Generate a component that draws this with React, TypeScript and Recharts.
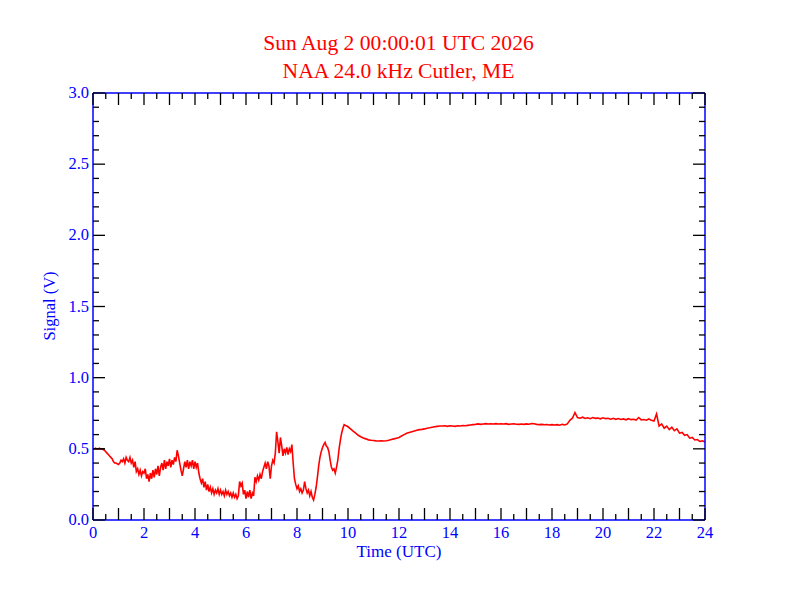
import React from 'react';
import { LineChart, Line, XAxis, YAxis, ReferenceLine } from 'recharts';

// Signal (V) samples; first two chunks every 0.05 h, last two every 0.1 h
const signal00to05 = [
  0.50, 0.50, 0.505, 0.50, 0.50, 0.505, 0.50, 0.50, 0.495, 0.49,
  0.48, 0.47, 0.46, 0.45, 0.44, 0.43, 0.41, 0.40, 0.40, 0.395,
  0.39, 0.40, 0.42, 0.41, 0.43, 0.40, 0.44, 0.42, 0.41, 0.44,
  0.40, 0.42, 0.37, 0.41, 0.34, 0.36, 0.32, 0.35, 0.31, 0.34,
  0.33, 0.36, 0.29, 0.32, 0.27, 0.33, 0.29, 0.35, 0.30, 0.36,
  0.32, 0.38, 0.31, 0.37, 0.40, 0.35, 0.42, 0.36, 0.41, 0.38,
  0.43, 0.37, 0.42, 0.39, 0.44, 0.41, 0.49, 0.45, 0.40, 0.35,
  0.31, 0.36, 0.41, 0.37, 0.42, 0.36, 0.41, 0.38, 0.42, 0.36,
  0.41, 0.37, 0.40, 0.33, 0.29, 0.26, 0.29, 0.23, 0.27, 0.21,
  0.25, 0.20, 0.23, 0.19, 0.22, 0.18, 0.21, 0.19, 0.22, 0.18,
];

const signal05to10 = [
  0.21, 0.18, 0.20, 0.17, 0.21, 0.18, 0.20, 0.17, 0.19, 0.16,
  0.19, 0.16, 0.18, 0.15, 0.17, 0.27, 0.24, 0.26, 0.18, 0.21,
  0.15, 0.20, 0.16, 0.21, 0.15, 0.19, 0.17, 0.30, 0.27, 0.31,
  0.28, 0.32, 0.29, 0.34, 0.37, 0.40, 0.36, 0.41, 0.38, 0.29,
  0.38, 0.42, 0.40, 0.47, 0.62, 0.55, 0.47, 0.58, 0.52, 0.45,
  0.50, 0.47, 0.51, 0.46, 0.50, 0.48, 0.53, 0.40, 0.29, 0.25,
  0.22, 0.24, 0.20, 0.22, 0.19, 0.21, 0.27, 0.22, 0.19, 0.21,
  0.17, 0.20, 0.16, 0.14, 0.18, 0.23, 0.30, 0.38, 0.44, 0.48,
  0.51, 0.53, 0.545, 0.52, 0.51, 0.48, 0.42, 0.37, 0.35, 0.36,
  0.33, 0.37, 0.42, 0.50, 0.56, 0.61, 0.645, 0.67, 0.665, 0.66,
];

const signal10to17 = [
  0.655, 0.64, 0.625, 0.61, 0.595, 0.585, 0.576, 0.57, 0.563, 0.56,
  0.558, 0.556, 0.555, 0.556, 0.555, 0.557, 0.56, 0.565, 0.57, 0.575,
  0.58, 0.59, 0.60, 0.61, 0.615, 0.62, 0.625, 0.63, 0.635, 0.637,
  0.64, 0.645, 0.648, 0.652, 0.655, 0.658, 0.66, 0.66, 0.662, 0.658,
  0.662, 0.66, 0.658, 0.662, 0.66, 0.664, 0.662, 0.665, 0.668, 0.67,
  0.672, 0.675, 0.672, 0.675, 0.677, 0.674, 0.676, 0.675, 0.677, 0.674,
  0.676, 0.675, 0.677, 0.672, 0.674, 0.676, 0.673, 0.672, 0.674, 0.672,
];

const signal17to24 = [
  0.675, 0.673, 0.678, 0.676, 0.672, 0.67, 0.672, 0.669, 0.671, 0.668,
  0.67, 0.668, 0.67, 0.666, 0.672, 0.668, 0.675, 0.70, 0.715, 0.755,
  0.72, 0.715, 0.722, 0.713, 0.718, 0.712, 0.72, 0.714, 0.716, 0.711,
  0.718, 0.712, 0.715, 0.708, 0.714, 0.707, 0.713, 0.706, 0.71, 0.704,
  0.712, 0.705, 0.708, 0.702, 0.72, 0.703, 0.706, 0.701, 0.71, 0.70,
  0.695, 0.745, 0.66, 0.675, 0.645, 0.66, 0.635, 0.652, 0.628, 0.64,
  0.61, 0.615, 0.595, 0.60, 0.575, 0.58, 0.562, 0.565, 0.552, 0.556, 0.548,
];

const chunkStarts = [0, 5, 10, 17];
const chunkSteps = [0.05, 0.05, 0.1, 0.1];
const chunks = [signal00to05, signal05to10, signal10to17, signal17to24];

const xMajorTicks = [0, 1, 2, 3, 4, 5, 6, 7, 8, 9, 10, 11, 12, 13, 14, 15, 16, 17, 18, 19, 20, 21, 22, 23, 24];
const xLabelEvery = 2;
const yMajorTicks = [0.0, 0.5, 1.0, 1.5, 2.0, 2.5, 3.0];
const yMinorPerMajor = 5;

const titleLine1 = 'Sun Aug 2 00:00:01 UTC 2026';
const titleLine2 = 'NAA 24.0 kHz Cutler, ME';
const xTitle = 'Time (UTC)';
const yTitle = 'Signal (V)';

const data = chunks.flatMap((vals, c) =>
  vals.map((v, i) => ({ t: +(chunkStarts[c] + i * chunkSteps[c]).toFixed(3), v }))
);

const xTicks: number[] = [];
xMajorTicks.forEach((t, i) => {
  xTicks.push(t);
  if (i < xMajorTicks.length - 1) xTicks.push(t + 0.5);
});
const yTicks: number[] = [];
yMajorTicks.forEach((t, i) => {
  yTicks.push(t);
  if (i < yMajorTicks.length - 1) {
    for (let k = 1; k < yMinorPerMajor; k++) yTicks.push(+(t + (k * 0.5) / yMinorPerMajor).toFixed(2));
  }
});

const BLUE = '#0000ff';
const RED = '#ff0000';
const FONT = '"Liberation Serif", "Times New Roman", serif';
const MAJOR = 12;
const MINOR = 6;

const isXMajor = (v: number) => Math.abs(v - Math.round(v)) < 1e-6;
const isYMajor = (v: number) => Math.abs(v * 2 - Math.round(v * 2)) < 1e-6;

const BottomTick = (p: any) => {
  const { x, y, payload } = p;
  const v = payload.value;
  const major = isXMajor(v);
  const labeled = major && Math.round(v) % xLabelEvery === 0;
  return (
    <g>
      <line x1={x} y1={y} x2={x} y2={y - (major ? MAJOR : MINOR)} stroke="#000" strokeWidth={1.3} />
      {labeled && (
        <text x={x} y={y + 18} textAnchor="middle" fill={BLUE} fontSize={16.5} fontFamily={FONT}>
          {Math.round(v)}
        </text>
      )}
    </g>
  );
};

const TopTick = (p: any) => {
  const { x, y, payload } = p;
  const major = isXMajor(payload.value);
  return <line x1={x} y1={y} x2={x} y2={y + (major ? MAJOR : MINOR)} stroke="#000" strokeWidth={1.3} />;
};

const LeftTick = (p: any) => {
  const { x, y, payload } = p;
  const v = payload.value;
  const major = isYMajor(v);
  return (
    <g>
      <line x1={x} y1={y} x2={x + (major ? MAJOR : MINOR)} y2={y} stroke="#000" strokeWidth={1.3} />
      {major && (
        <text x={x - 4} y={y + 5} textAnchor="end" fill={BLUE} fontSize={16.5} fontFamily={FONT}>
          {v.toFixed(1)}
        </text>
      )}
    </g>
  );
};

const RightTick = (p: any) => {
  const { x, y, payload } = p;
  const major = isYMajor(payload.value);
  return <line x1={x} y1={y} x2={x - (major ? MAJOR : MINOR)} y2={y} stroke="#000" strokeWidth={1.3} />;
};

const axisLine = { stroke: BLUE, strokeWidth: 1.5 };

export default function App() {
  return (
    <div style={{ position: 'absolute', left: 0, top: 0, width: 792, height: 612, background: '#fff', fontFamily: FONT }}>
      <div style={{ position: 'absolute', left: 0, width: 797, top: 32, textAlign: 'center', color: RED, fontSize: 21.6, lineHeight: '22px' }}>
        {titleLine1}
      </div>
      <div style={{ position: 'absolute', left: 0, width: 797, top: 60, textAlign: 'center', color: RED, fontSize: 21.6, lineHeight: '22px' }}>
        {titleLine2}
      </div>
      <LineChart
        width={792}
        height={612}
        data={data}
        margin={{ top: 92, right: 86, bottom: 52, left: 53 }}
      >
        <XAxis
          xAxisId="b"
          type="number"
          dataKey="t"
          domain={[0, 24]}
          allowDataOverflow
          ticks={xTicks}
          interval={0}
          tickLine={false}
          tickSize={0}
          tickMargin={0}
          height={40}
          axisLine={axisLine}
          tick={(p: any) => <BottomTick {...p} />}
        />
        <XAxis
          xAxisId="t"
          orientation="top"
          type="number"
          dataKey="t"
          domain={[0, 24]}
          allowDataOverflow
          ticks={xTicks}
          interval={0}
          tickLine={false}
          tickSize={0}
          tickMargin={0}
          height={1}
          axisLine={axisLine}
          tick={(p: any) => <TopTick {...p} />}
        />
        <YAxis
          yAxisId="l"
          type="number"
          domain={[0, 3]}
          allowDataOverflow
          ticks={yTicks}
          interval={0}
          tickLine={false}
          tickSize={0}
          tickMargin={0}
          width={40}
          axisLine={axisLine}
          tick={(p: any) => <LeftTick {...p} />}
        />
        <YAxis
          yAxisId="r"
          orientation="right"
          type="number"
          domain={[0, 3]}
          allowDataOverflow
          ticks={yTicks}
          interval={0}
          tickLine={false}
          tickSize={0}
          tickMargin={0}
          width={1}
          axisLine={axisLine}
          tick={(p: any) => <RightTick {...p} />}
        />
        <Line
          xAxisId="t"
          yAxisId="r"
          type="linear"
          dataKey="v"
          stroke="none"
          strokeOpacity={0}
          dot={false}
          activeDot={false}
          legendType="none"
          isAnimationActive={false}
        />
        <Line
          xAxisId="b"
          yAxisId="l"
          type="linear"
          dataKey="v"
          stroke={RED}
          strokeWidth={1.6}
          dot={false}
          isAnimationActive={false}
        />
        <ReferenceLine
          xAxisId="b"
          yAxisId="l"
          segment={[{ x: 0, y: 0.5 }, { x: 0.47, y: 0.5 }]}
          stroke="#000"
          strokeWidth={1}
        />
      </LineChart>
      <div style={{ position: 'absolute', left: 0, width: 798, top: 543, textAlign: 'center', color: BLUE, fontSize: 17, lineHeight: '17px' }}>
        {xTitle}
      </div>
      <div
        style={{
          position: 'absolute',
          left: 50,
          top: 306,
          color: BLUE,
          fontSize: 16.5,
          lineHeight: '16px',
          whiteSpace: 'nowrap',
          transform: 'translate(-50%, -50%) rotate(-90deg)',
        }}
      >
        {yTitle}
      </div>
    </div>
  );
}
